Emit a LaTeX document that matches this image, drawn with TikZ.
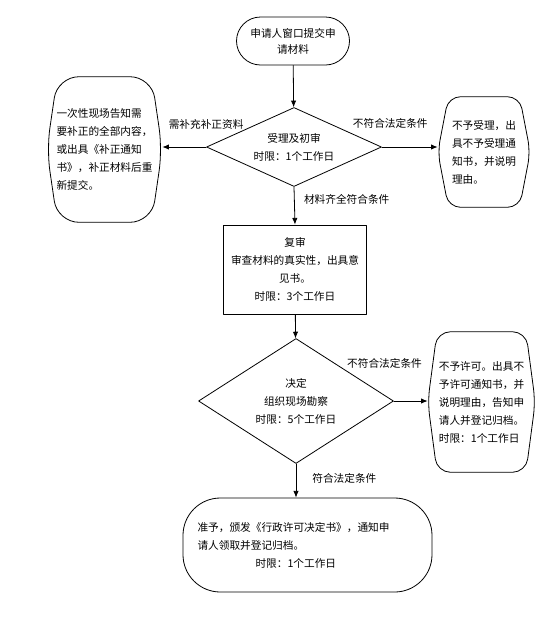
\documentclass[tikz,border=0pt]{standalone}
\usepackage{fontspec}
\setmainfont{Noto Sans CJK SC}
\usepackage{tikz}
\usetikzlibrary{arrows.meta}
\usetikzlibrary{positioning}
\usetikzlibrary{shapes.geometric}

\begin{document}
\begin{tikzpicture}[line cap=round,line join=round, x=0.75pt,y=-0.75pt,
  every node/.style={font=\fontsize{8}{13.5}\selectfont},
  outline/.style={line width=0.6pt},
  conn/.style={line width=0.6pt, -{Latex[length=5pt, width=4pt]}},
  lab/.style={inner sep=0pt}]
\useasboundingbox (0,0) rectangle (554,618);
\node[draw, outline, rounded corners=18pt, minimum width=84.75pt, minimum height=36pt, inner sep=0pt, align=center, font=\fontsize{8}{12}\selectfont] (apply) at (293,41) {申请人窗口提交申\\请材料};
\node[draw, outline, diamond, aspect=2.2, minimum width=131.25pt, minimum height=59.25pt, inner sep=0pt, align=center] (accept) at (294,147) {受理及初审\\时限：1个工作日};
\node[minimum width=86.25pt, minimum height=108.75pt, inner sep=0pt, align=left] (supply) at (104.5,149.5) {一次性现场告知需\\要补正的全部内容，\\或出具《补正通知\\书》，补正材料后重\\新提交。};
\draw[outline, rounded corners=16pt] ([xshift=8pt]supply.north west) -- ([xshift=-8pt]supply.north east) -- (supply.east) -- ([xshift=-8pt]supply.south east) -- ([xshift=8pt]supply.south west) -- (supply.west) -- cycle;
\node[minimum width=69pt, minimum height=82.5pt, inner sep=0pt, align=left] (reject) at (484,152) {不予受理，出\\具不予受理通\\知书，并说明\\理由。};
\draw[outline, rounded corners=9pt] ([xshift=8pt]reject.north west) -- ([xshift=-8pt]reject.north east) -- (reject.east) -- ([xshift=-8pt]reject.south east) -- ([xshift=8pt]reject.south west) -- (reject.west) -- cycle;
\node[draw, outline, minimum width=107.25pt, minimum height=66.75pt, inner sep=0pt, align=center] (review) at (295,269.5) {复审\\审查材料的真实性，出具意\\见书。\\时限：3个工作日};
\node[draw, outline, diamond, aspect=1.56, minimum width=146.25pt, minimum height=93.75pt, inner sep=0pt, align=center] (decide) at (296,401) {决定\\组织现场勘察\\时限：5个工作日};
\node[minimum width=80.25pt, minimum height=105pt, inner sep=0pt, align=left] (deny) at (481.5,402) {不予许可。出具不\\予许可通知书，并\\说明理由，告知申\\请人并登记归档。\\时限：1个工作日};
\draw[outline, rounded corners=10pt] ([xshift=7pt]deny.north west) -- ([xshift=-7pt]deny.north east) -- (deny.east) -- ([xshift=-7pt]deny.south east) -- ([xshift=7pt]deny.south west) -- (deny.west) -- cycle;
\node[draw, outline, rounded corners=28pt, minimum width=186.75pt, minimum height=70.5pt, inner sep=0pt, text width=165pt, align=left] (grant) at (307.5,545) {准予，颁发《行政许可决定书》，通知申\\请人领取并登记归档。\\\hspace*{43.5pt}时限：1个工作日};
\draw[conn] (apply) -- (accept);
\draw[conn] (accept.west) -- node[lab, pos=0, above=13pt] {需补充补正资料} (accept.west -| supply.east);
\draw[conn] (accept.east) -- node[lab, pos=0.15, above=14pt] {不符合法定条件} (accept.east -| reject.west);
\draw[conn] (accept.south) -- node[lab, pos=0.34, right=7pt] {材料齐全符合条件} (review.north);
\draw[conn] (review) -- (decide);
\draw[conn] (decide.east) -- node[lab, pos=0, above=24pt, xshift=-7pt] {不符合法定条件} (decide.east -| deny.west);
\draw[conn] (decide.south) -- node[lab, pos=0.43, right=12pt] {符合法定条件} (decide.south |- grant.north);
\end{tikzpicture}
\end{document}
